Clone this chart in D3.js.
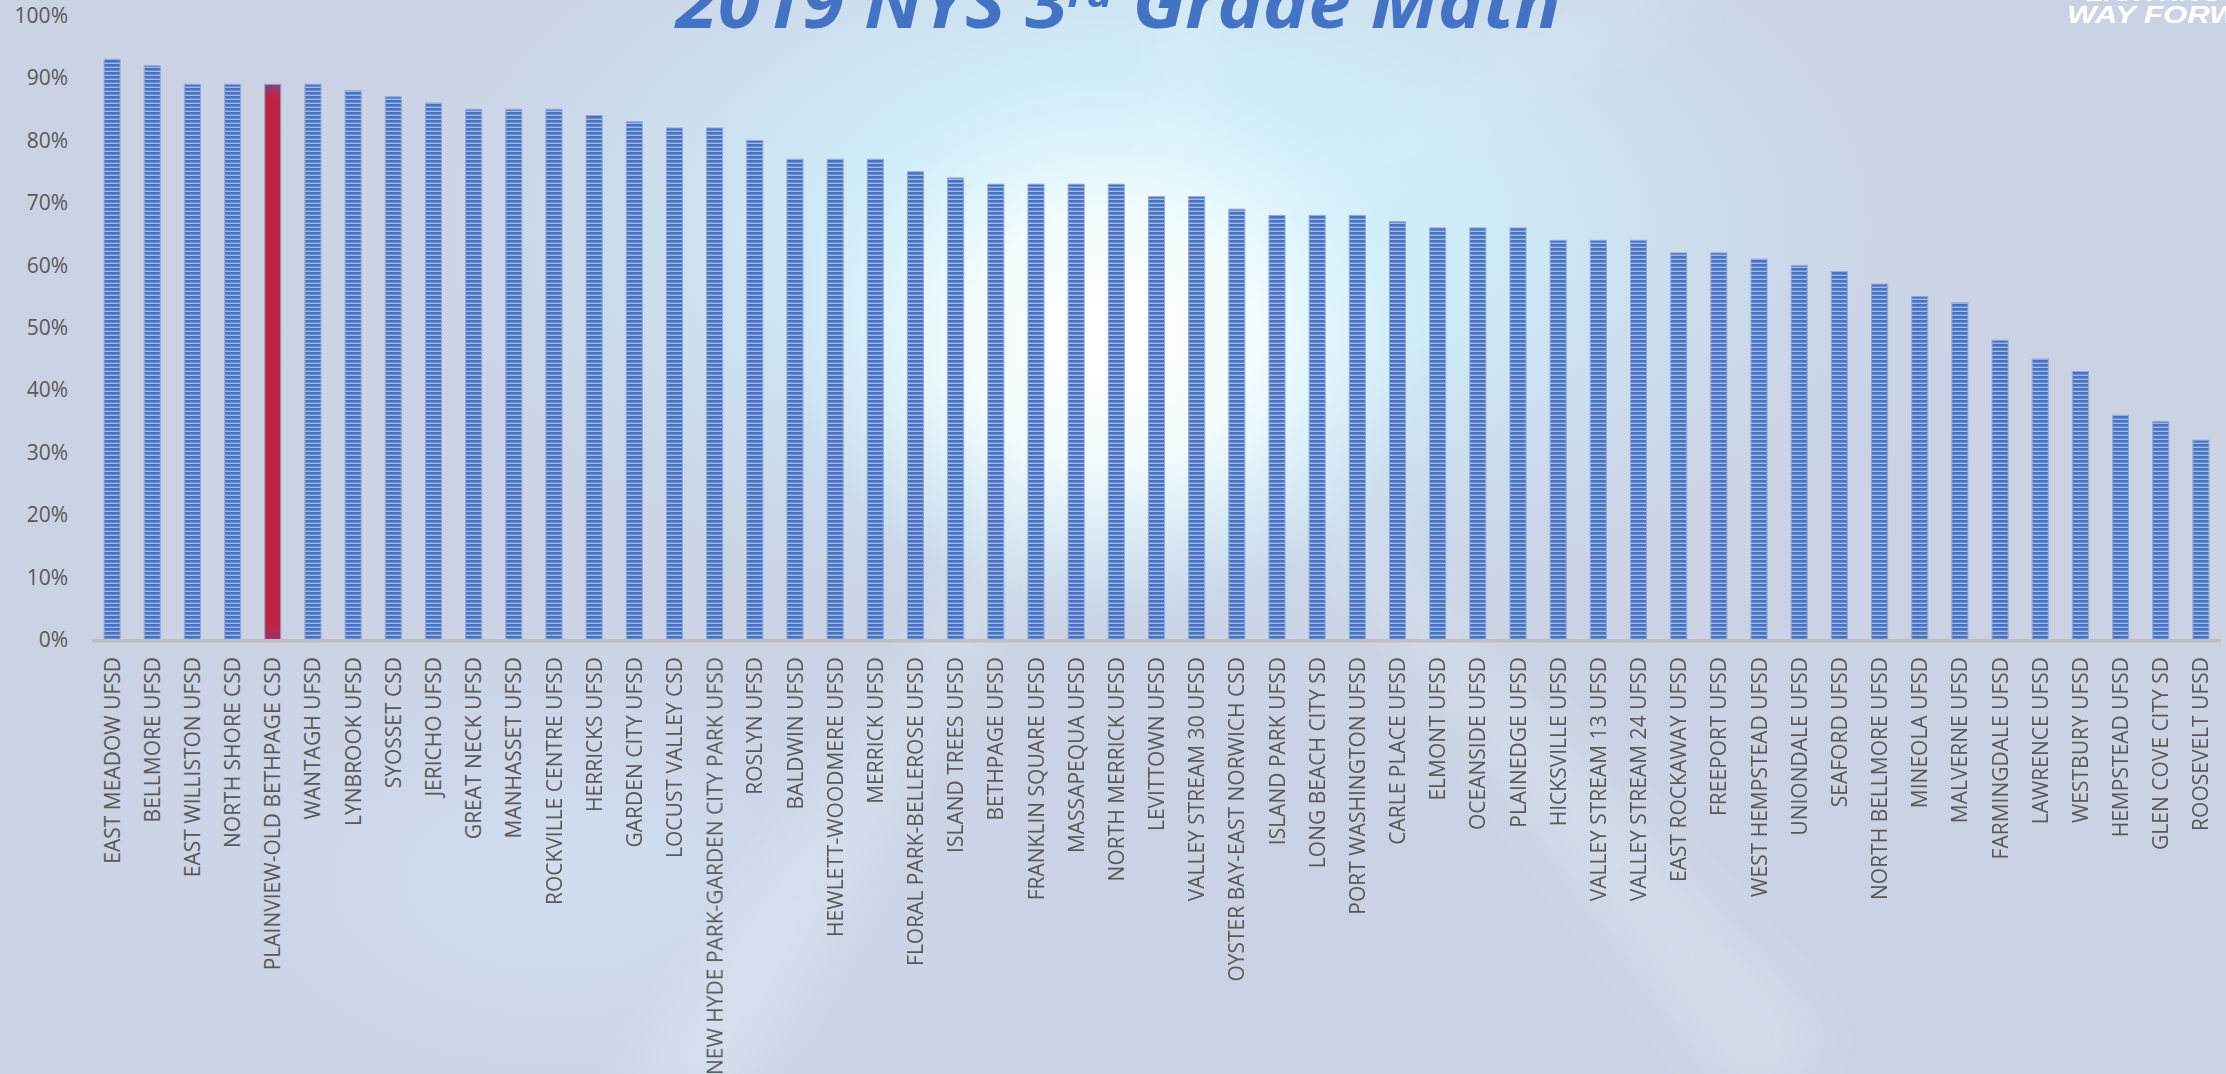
<!DOCTYPE html>
<html>
<head>
<meta charset="utf-8">
<script src="https://cdn.jsdelivr.net/npm/d3@7"></script>
<style>
  html, body { margin: 0; padding: 0; overflow: hidden; background: #cbd2e3; }
  svg { display: block; }
</style>
</head>
<body>
<svg width="2226" height="1074"></svg>
<script>

var districts = [
  "EAST MEADOW UFSD", "BELLMORE UFSD", "EAST WILLISTON UFSD", "NORTH SHORE CSD",
  "PLAINVIEW-OLD BETHPAGE CSD", "WANTAGH UFSD", "LYNBROOK UFSD", "SYOSSET CSD",
  "JERICHO UFSD", "GREAT NECK UFSD", "MANHASSET UFSD", "ROCKVILLE CENTRE UFSD",
  "HERRICKS UFSD", "GARDEN CITY UFSD", "LOCUST VALLEY CSD",
  "NEW HYDE PARK-GARDEN CITY PARK UFSD", "ROSLYN UFSD", "BALDWIN UFSD",
  "HEWLETT-WOODMERE UFSD", "MERRICK UFSD", "FLORAL PARK-BELLEROSE UFSD",
  "ISLAND TREES UFSD", "BETHPAGE UFSD", "FRANKLIN SQUARE UFSD", "MASSAPEQUA UFSD",
  "NORTH MERRICK UFSD", "LEVITTOWN UFSD", "VALLEY STREAM 30 UFSD",
  "OYSTER BAY-EAST NORWICH CSD", "ISLAND PARK UFSD", "LONG BEACH CITY SD",
  "PORT WASHINGTON UFSD", "CARLE PLACE UFSD", "ELMONT UFSD", "OCEANSIDE UFSD",
  "PLAINEDGE UFSD", "HICKSVILLE UFSD", "VALLEY STREAM 13 UFSD",
  "VALLEY STREAM 24 UFSD", "EAST ROCKAWAY UFSD", "FREEPORT UFSD",
  "WEST HEMPSTEAD UFSD", "UNIONDALE UFSD", "SEAFORD UFSD", "NORTH BELLMORE UFSD",
  "MINEOLA UFSD", "MALVERNE UFSD", "FARMINGDALE UFSD", "LAWRENCE UFSD",
  "WESTBURY UFSD", "HEMPSTEAD UFSD", "GLEN COVE CITY SD", "ROOSEVELT UFSD"
];

// percent proficient
var scores = [
  93, 92, 89, 89, 89, 89, 88, 87, 86, 85, 85, 85, 84, 83, 82, 82, 80, 77, 77, 77,
  75, 74, 73, 73, 73, 73, 71, 71, 69, 68, 68, 68, 67, 66, 66, 66, 64, 64, 64, 62,
  62, 61, 60, 59, 57, 55, 54, 48, 45, 43, 36, 35, 32
];

var highlight = "PLAINVIEW-OLD BETHPAGE CSD";

var yTicks = [0, 10, 20, 30, 40, 50, 60, 70, 80, 90, 100];

var data = districts.map(function(d, i) { return {name: d, value: scores[i]}; });

var svg = d3.select("svg"),
    width = +svg.attr("width"),
    height = +svg.attr("height");

var defs = svg.append("defs");

// ---- background ----
function radial(id, cx, cy, r, sy, stops) {
  var g = defs.append("radialGradient")
      .attr("id", id)
      .attr("gradientUnits", "userSpaceOnUse")
      .attr("cx", cx).attr("cy", cy).attr("r", r)
      .attr("gradientTransform", "translate(" + cx + "," + cy + ") scale(1," + sy + ") translate(" + (-cx) + "," + (-cy) + ")");
  stops.forEach(function(s) {
    g.append("stop").attr("offset", s[0]).attr("stop-color", s[1]).attr("stop-opacity", s[2]);
  });
}

// wide cyan haze around the top middle
radial("haze", 1160, 230, 950, 0.55, [
  [0, "#d2f2fb", 1], [0.35, "#cfeef9", 0.9], [0.65, "#cde0f1", 0.5], [1, "#cbd2e3", 0]
]);
// white core
radial("core", 1110, 340, 320, 0.85, [
  [0, "#ffffff", 1], [0.45, "#f8feff", 0.9], [1, "#e4f7fc", 0]
]);
// faint light patch lower left
radial("low", 560, 880, 500, 0.6, [
  [0, "#d3e1f3", 0.8], [1, "#cfdcef", 0]
]);

var blur = defs.append("filter").attr("id", "blur")
    .attr("x", "-50%").attr("y", "-50%").attr("width", "200%").attr("height", "200%");
blur.append("feGaussianBlur").attr("stdDeviation", 30);

svg.append("rect")
    .attr("width", width).attr("height", height)
    .attr("fill", "#cbd2e3");

["haze", "low", "core"].forEach(function(id) {
  svg.append("rect")
      .attr("width", width).attr("height", height)
      .attr("fill", "url(#" + id + ")");
});

// soft rays from the bright spot
var cx = 1160, cy = 300;
var rays = [
  {a1: -86, a2: -82, len: 380, op: 0.6},
  {a1: 48, a2: 54, len: 1000, op: 0.25},
  {a1: 118, a2: 124, len: 950, op: 0.25},
  {a1: -35, a2: -30, len: 600, op: 0.2}
];
svg.append("g")
    .attr("filter", "url(#blur)")
  .selectAll("path")
  .data(rays)
  .enter().append("path")
    .attr("d", function(r) {
      var p1 = [cx + r.len * Math.cos(r.a1 * Math.PI / 180), cy + r.len * Math.sin(r.a1 * Math.PI / 180)],
          p2 = [cx + r.len * Math.cos(r.a2 * Math.PI / 180), cy + r.len * Math.sin(r.a2 * Math.PI / 180)];
      return "M" + cx + "," + cy + "L" + p1 + "L" + p2 + "Z";
    })
    .attr("fill", "#f2fcff")
    .attr("opacity", function(r) { return r.op; });

// ---- bar fills ----
var stripes = defs.append("pattern")
    .attr("id", "stripes")
    .attr("patternUnits", "userSpaceOnUse")
    .attr("width", 20).attr("height", 4);
stripes.append("rect").attr("width", 20).attr("height", 4).attr("fill", "#a2b7e2");
stripes.append("rect").attr("width", 20).attr("height", 2.6).attr("fill", "#4472c4");

var red = defs.append("linearGradient")
    .attr("id", "redfill")
    .attr("x1", 0).attr("y1", 0).attr("x2", 0).attr("y2", 1);
red.append("stop").attr("offset", 0).attr("stop-color", "#8f3f7a");
red.append("stop").attr("offset", 0.025).attr("stop-color", "#c02341");
red.append("stop").attr("offset", 0.97).attr("stop-color", "#c02341");
red.append("stop").attr("offset", 1).attr("stop-color", "#9c3466");

// ---- scales ----
var x = d3.scaleBand()
    .domain(districts)
    .range([92, 2221])
    .paddingInner(0.6)
    .paddingOuter(0.3);

var y = d3.scaleLinear()
    .domain([0, 100])
    .range([640, 15.6]);

// ---- title ----
var title = svg.append("text")
    .attr("font-family", "'Open Sans', 'DejaVu Sans', sans-serif")
    .attr("font-weight", "bold")
    .attr("font-style", "italic")
    .attr("font-size", 72)
    .attr("fill", "#4472c4");
title.append("tspan").text("2019 NYS 3");
title.append("tspan").attr("font-size", 42).attr("dy", -21).text("rd");
title.append("tspan").attr("dy", 21).text(" Grade Math");
var tw = title.node().getBBox().width;
title.attr("transform", "translate(676,28) scale(" + (887 / tw) + ",1)");

// logo text, top right (cut off by the edge)
var logo = svg.append("g")
    .attr("font-family", "'Liberation Sans', Arial, sans-serif")
    .attr("font-weight", "bold")
    .attr("font-style", "italic")
    .attr("fill", "#ffffff");
logo.append("text")
    .attr("font-size", 22)
    .attr("transform", "translate(2086,1) scale(1.3,1)")
    .text("LIGHTING THE");
logo.append("text")
    .attr("font-size", 24)
    .attr("transform", "translate(2067,23) scale(1.3,1)")
    .text("WAY FORWARD");

// ---- y axis ----
var yAxis = svg.append("g")
    .attr("transform", "translate(92,0)")
    .call(d3.axisLeft(y)
      .tickValues(yTicks)
      .tickSize(0)
      .tickPadding(24)
      .tickFormat(function(d) { return d + "%"; }));
yAxis.select(".domain").remove();
yAxis.selectAll("text")
    .attr("font-family", "'Open Sans', sans-serif")
    .attr("font-size", 21)
    .attr("fill", "#595959");

// ---- bars ----
svg.append("g")
  .selectAll("rect")
  .data(data)
  .enter().append("rect")
    .attr("x", function(d) { return x(d.name); })
    .attr("y", function(d) { return y(d.value); })
    .attr("width", x.bandwidth())
    .attr("height", function(d) { return y(0) - y(d.value); })
    .attr("fill", function(d) { return d.name == highlight ? "url(#redfill)" : "url(#stripes)"; })
    .attr("stroke", "#8faadc")
    .attr("stroke-width", 1);

// baseline
svg.append("line")
    .attr("x1", 92).attr("x2", 2221)
    .attr("y1", y(0) + 0.7).attr("y2", y(0) + 0.7)
    .attr("stroke", "#bfbfbf")
    .attr("stroke-width", 3.5);

// ---- x labels ----
svg.append("g")
  .selectAll("text")
  .data(districts)
  .enter().append("text")
    .attr("transform", function(d) {
      return "translate(" + (x(d) + x.bandwidth() / 2) + ",657) rotate(-90)";
    })
    .attr("text-anchor", "end")
    .attr("dy", "0.36em")
    .attr("font-family", "'Open Sans', sans-serif")
    .attr("font-size", 21)
    .attr("fill", "#595959")
    .text(function(d) { return d; });

</script>
</body>
</html>
